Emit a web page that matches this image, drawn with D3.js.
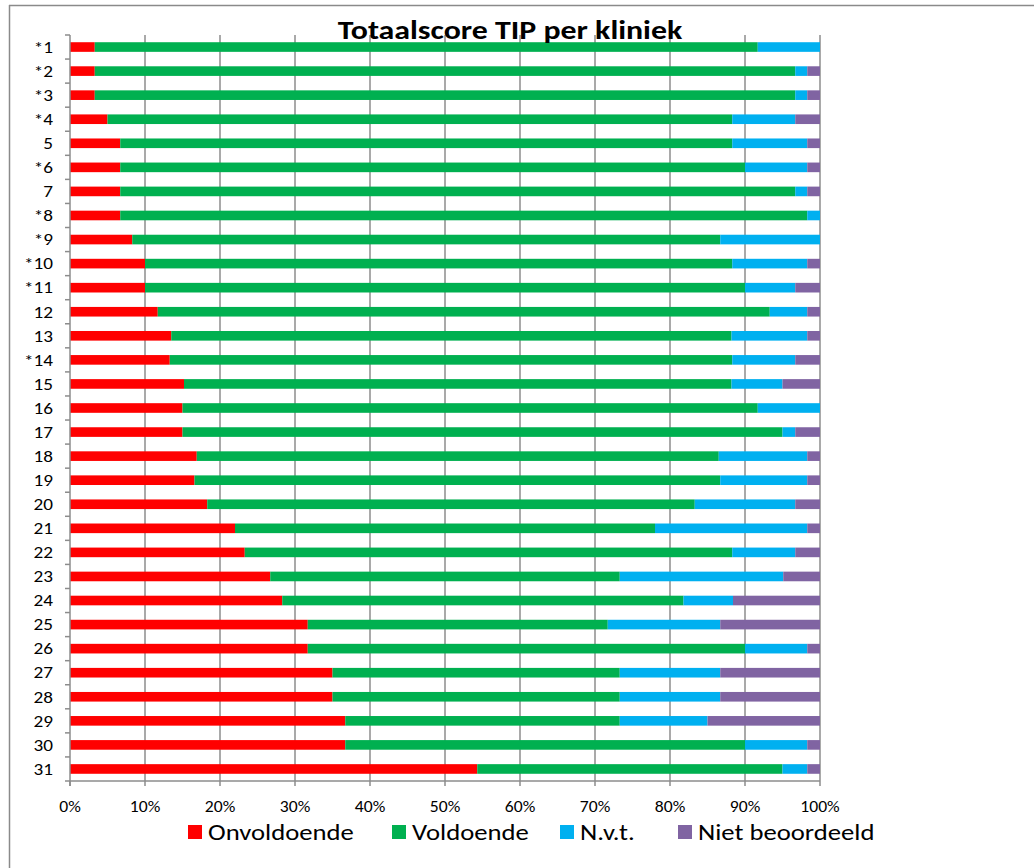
<!DOCTYPE html>
<html>
<head>
<meta charset="utf-8">
<script src="https://cdn.jsdelivr.net/npm/d3@7"></script>
<style>
  html, body { margin: 0; padding: 0; background: #fff; }
  svg { display: block; }
  text { font-family: Carlito, Lato, "Open Sans", sans-serif; }
</style>
</head>
<body>
<svg id="chart" width="1034" height="868"></svg>
<script>
const categories = ["*1","*2","*3","*4","5","*6","7","*8","*9","*10","*11","12","13","*14","15","16","17","18","19","20","21","22","23","24","25","26","27","28","29","30","31"];
const onvoldoende = [3.3,3.3,3.3,5.0,6.7,6.7,6.7,6.7,8.3,10.0,10.0,11.7,13.5,13.3,15.2,15.0,15.0,16.9,16.6,18.3,22.0,23.3,26.7,28.3,31.7,31.7,35.0,35.0,36.7,36.7,54.3];
const voldoende   = [88.4,93.4,93.4,83.3,81.6,83.3,90.0,91.6,78.4,78.3,80.0,81.6,74.7,75.0,73.0,76.7,80.0,69.6,70.1,65.0,56.0,65.0,46.6,53.5,40.0,58.3,38.3,38.3,36.6,53.3,40.7];
const nvt         = [8.3,1.6,1.6,8.4,10.0,8.3,1.6,1.7,13.3,10.0,6.7,5.0,10.1,8.4,6.8,8.3,1.7,11.8,11.6,13.4,20.3,8.4,21.8,6.6,15.0,8.3,13.4,13.4,11.7,8.3,3.3];
const nietBeoordeeld = [0,1.7,1.7,3.3,1.7,1.7,1.7,0,0,1.7,3.3,1.7,1.7,3.3,5.0,0,3.3,1.7,1.7,3.3,1.7,3.3,4.9,11.6,13.3,1.7,13.3,13.3,15.0,1.7,1.7];
const seriesNames = ["Onvoldoende","Voldoende","N.v.t.","Niet beoordeeld"];
const seriesColors = ["#ff0000","#00b050","#00b0f0","#8064a2"];
const xTicks = [0,0.1,0.2,0.3,0.4,0.5,0.6,0.7,0.8,0.9,1.0];
const title = "Totaalscore TIP per kliniek";

const svg = d3.select("#chart");
const m = {left: 70, right: 820, top: 35, bottom: 781};

// frame
svg.append("line").attr("x1", 9).attr("x2", 1034).attr("y1", 5.5).attr("y2", 5.5).attr("stroke", "#8a8a8a").attr("stroke-width", 1.5);
svg.append("line").attr("x1", 9.5).attr("x2", 9.5).attr("y1", 5).attr("y2", 868).attr("stroke", "#8a8a8a").attr("stroke-width", 1.5);

const table = categories.map((c, i) => ({cat: c, s0: onvoldoende[i], s1: voldoende[i], s2: nvt[i], s3: nietBeoordeeld[i]}));
const stack = d3.stack().keys(["s0","s1","s2","s3"]).offset(d3.stackOffsetExpand);
const stacked = stack(table);

const x = d3.scaleLinear().domain([0, 1]).range([m.left, m.right]);
const y = d3.scaleBand().domain(categories).range([m.top, m.bottom]).paddingInner(0.6).paddingOuter(0.3);
const yb = d3.scaleBand().domain(categories).range([m.top, m.bottom]);

// gridlines
svg.append("g").selectAll("line").data(xTicks.slice(1)).join("line")
  .attr("x1", d => x(d)).attr("x2", d => x(d))
  .attr("y1", m.top).attr("y2", m.bottom)
  .attr("stroke", "#8c8c8c").attr("stroke-width", 1.5);

// bars
svg.append("g").selectAll("g").data(stacked).join("g")
  .attr("fill", (d, i) => seriesColors[i])
  .selectAll("rect").data(d => d).join("rect")
  .attr("x", d => x(d[0]))
  .attr("width", d => Math.max(0, x(d[1]) - x(d[0])))
  .attr("y", d => y(d.data.cat))
  .attr("height", y.bandwidth());

// stretched text helper
function stext(sel, px, py, sx) {
  return sel.attr("transform", (d, i) => `translate(${typeof px === "function" ? px(d, i) : px},${typeof py === "function" ? py(d, i) : py}) scale(${sx},1)`);
}

// y axis
const yAxisG = svg.append("g");
yAxisG.append("line").attr("x1", m.left).attr("x2", m.left).attr("y1", m.top).attr("y2", m.bottom + 5)
  .attr("stroke", "#8c8c8c").attr("stroke-width", 1.5);
const boundaries = categories.map(c => yb(c)).concat([m.bottom]);
yAxisG.selectAll("line.tk").data(boundaries).join("line").attr("class","tk")
  .attr("x1", m.left - 5).attr("x2", m.left).attr("y1", d => d).attr("y2", d => d)
  .attr("stroke", "#8c8c8c").attr("stroke-width", 1.5);
stext(yAxisG.selectAll("text").data(categories).join("text"), 53, d => yb(d) + yb.bandwidth() / 2, 1.2)
  .attr("dy", "0.36em").attr("text-anchor", "end")
  .attr("font-size", 16).attr("fill", "#000").text(d => d);

// x axis
const xAxisG = svg.append("g");
xAxisG.append("line").attr("x1", m.left).attr("x2", m.right).attr("y1", m.bottom).attr("y2", m.bottom)
  .attr("stroke", "#8c8c8c").attr("stroke-width", 1.5);
xAxisG.selectAll("line.tk").data(xTicks).join("line").attr("class","tk")
  .attr("x1", d => x(d)).attr("x2", d => x(d)).attr("y1", m.bottom).attr("y2", m.bottom + 5)
  .attr("stroke", "#8c8c8c").attr("stroke-width", 1.5);
stext(xAxisG.selectAll("text").data(xTicks).join("text"), d => x(d), 812, 1.1)
  .attr("text-anchor", "middle")
  .attr("font-size", 16).attr("fill", "#000").text(d => d3.format(".0%")(d));

// title
stext(svg.append("text"), 510, 39, 1.18).attr("text-anchor", "middle")
  .attr("font-size", 27).attr("font-weight", "bold").attr("fill", "#000").text(title);

// legend
const legendX = [188, 392, 560, 678];
const lg = svg.append("g").selectAll("g").data(seriesNames).join("g")
  .attr("transform", (d, i) => `translate(${legendX[i]},825)`);
lg.append("rect").attr("width", 14).attr("height", 14).attr("fill", (d, i) => seriesColors[i]);
stext(lg.append("text"), 20, 7, 1.16).attr("dy", "0.36em")
  .attr("font-size", 23).attr("fill", "#000").text(d => d);
</script>
</body>
</html>
